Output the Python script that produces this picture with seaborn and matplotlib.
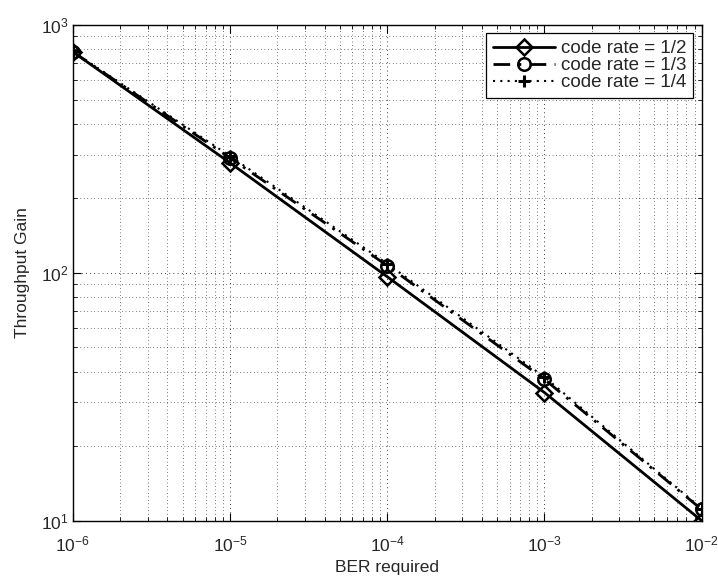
import numpy as np
import pandas as pd
import matplotlib
matplotlib.use("Agg")
import matplotlib.pyplot as plt
import seaborn as sns
from matplotlib.ticker import LogLocator, NullFormatter, FixedLocator, FixedFormatter

# Required bit error rate on the x axis
ber = [1e-6, 1e-5, 1e-4, 1e-3, 1e-2]

# Throughput gain for each code rate
gain_half = [780, 278, 96.5, 32.9, 10.0]
gain_third = [780, 291, 107, 37.2, 11.1]
gain_quarter = [783, 296, 109, 38.0, 11.2]

labels = ["code rate = 1/2", "code rate = 1/3", "code rate = 1/4"]

x_ticks = [1e-6, 1e-5, 1e-4, 1e-3, 1e-2]
x_ticklabels = [r"$\mathregular{10^{-6}}$", r"$\mathregular{10^{-5}}$",
                r"$\mathregular{10^{-4}}$", r"$\mathregular{10^{-3}}$",
                r"$\mathregular{10^{-2}}$"]
y_ticks = [10, 100, 1000]
y_ticklabels = [r"$\mathregular{10^{1}}$", r"$\mathregular{10^{2}}$",
                r"$\mathregular{10^{3}}$"]

sns.set_style("white")
plt.rcParams["font.family"] = ["Liberation Sans", "DejaVu Sans"]
plt.rcParams["mathtext.fontset"] = "custom"
plt.rcParams["mathtext.rm"] = "Liberation Sans"
plt.rcParams["mathtext.it"] = "Liberation Sans"

fig = plt.figure(figsize=(7.18, 5.78), dpi=100)
ax = fig.add_axes([0.1013, 0.0991, 0.8760, 0.8576])

frames = []
for lab, vals in zip(labels, [gain_half, gain_third, gain_quarter]):
    frames.append(pd.DataFrame({"BER": ber, "gain": vals, "series": lab}))
df = pd.concat(frames, ignore_index=True)

styles = {
    labels[0]: dict(linestyle="-", marker="D", markersize=8.5, linewidth=2.0,
                    markeredgewidth=1.8),
    labels[1]: dict(linestyle=(0, (6, 3, 1, 3)), marker="o", markersize=9, linewidth=2.0,
                    markeredgewidth=1.8),
    labels[2]: dict(linestyle=(0, (1, 2.5)), marker="+", markersize=9, linewidth=1.5,
                    markeredgewidth=2.2),
}

for lab in labels:
    sub = df[df["series"] == lab]
    sns.lineplot(data=sub, x="BER", y="gain", ax=ax, color="black",
                 markerfacecolor="none", markeredgecolor="black",
                 label=lab, **styles[lab])

ax.set_xscale("log")
ax.set_yscale("log")
ax.set_xlim(1e-6, 1e-2)
ax.set_ylim(10, 1000)

ax.xaxis.set_major_locator(FixedLocator(x_ticks))
ax.xaxis.set_major_formatter(FixedFormatter(x_ticklabels))
ax.yaxis.set_major_locator(FixedLocator(y_ticks))
ax.yaxis.set_major_formatter(FixedFormatter(y_ticklabels))
ax.xaxis.set_minor_locator(LogLocator(base=10, subs=np.arange(2, 10), numticks=20))
ax.yaxis.set_minor_locator(LogLocator(base=10, subs=np.arange(2, 10), numticks=20))
ax.xaxis.set_minor_formatter(NullFormatter())
ax.yaxis.set_minor_formatter(NullFormatter())

ax.grid(True, which="major", linestyle=(0, (1, 4)), color="black", linewidth=0.6)
ax.grid(True, which="minor", linestyle=(0, (1, 4)), color="black", linewidth=0.5)

ax.tick_params(which="both", direction="in", top=True, right=True,
               bottom=True, left=True, color="black")
ax.tick_params(which="major", length=6, width=0.8, labelsize=12.5)
ax.tick_params(axis="x", which="major", pad=10)
ax.tick_params(axis="y", which="major", pad=3)
ax.tick_params(which="minor", length=3, width=0.6)

for sp in ax.spines.values():
    sp.set_color("black")
    sp.set_linewidth(1.0)

ax.set_xlabel("BER required", fontsize=12.5, labelpad=4)
ax.set_ylabel("Throughput Gain", fontsize=12.5, labelpad=8)

leg = ax.legend(loc="upper right", fontsize=13.5, frameon=True, fancybox=False,
                edgecolor="black", framealpha=1.0, borderaxespad=0.45,
                handlelength=3.3, borderpad=0.35, labelspacing=0.0, handletextpad=0.35)
leg.get_frame().set_linewidth(0.9)

fig.savefig("out.png", dpi=100)
